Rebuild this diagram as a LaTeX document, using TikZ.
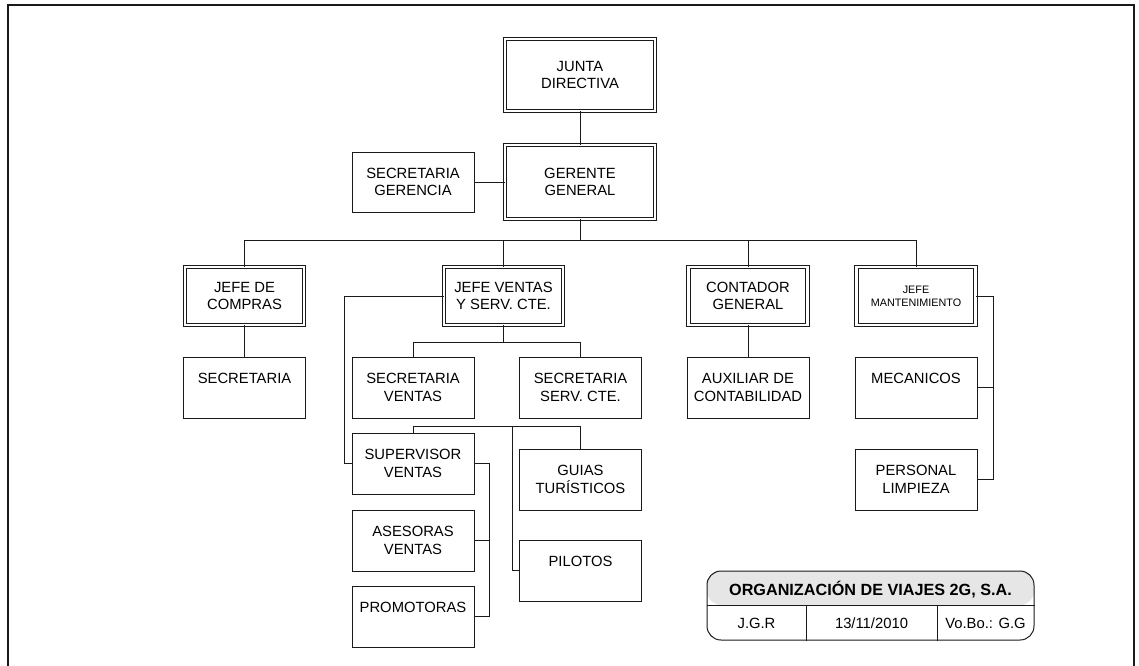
\documentclass[tikz,border=0pt]{standalone}
\usepackage{fontspec}
\setmainfont{Liberation Sans}
\usetikzlibrary{calc}
\definecolor{linegray}{HTML}{1A1A1A}
\definecolor{titlegray}{HTML}{E6E6E6}
\begin{document}
\begin{tikzpicture}[x=1pt,y=-1pt,
  every node/.style={font=\fontsize{14.8}{17.5}\selectfont, align=center, inner sep=0pt},
  box/.style={draw=linegray, line width=0.9pt, minimum width=122pt, minimum height=61pt},
  dbox/.style={draw=linegray, line width=0.85pt, double=white, double distance=2.8pt,
               minimum width=119pt, minimum height=58pt},
  link/.style={draw=linegray, line width=1pt},
  smalltext/.style={font=\fontsize{10.8}{13}\selectfont},
  titletext/.style={font=\bfseries\fontsize{16.2}{19}\selectfont},
]
\useasboundingbox (0,0) rectangle (1139,665);

% page frame
\draw[linegray, line width=1.8pt] (8,672) -- (8,5) -- (1134,5) -- (1134,672);

% management boxes
\node[dbox, minimum width=150pt, minimum height=72pt] (junta) at (580,75) {JUNTA\\DIRECTIVA};
\node[dbox, minimum width=150pt, minimum height=74pt] (gerente) at (580,182) {GERENTE\\GENERAL};
\node[box, minimum height=60pt] (secger) at (413,182) {SECRETARIA\\GERENCIA};

\node[dbox] (jcompras) at (244.5,296) {JEFE DE\\COMPRAS};
\node[dbox] (jventas) at (503.5,296) {JEFE VENTAS\\Y SERV. CTE.};
\node[dbox] (contador) at (748,296) {CONTADOR\\GENERAL};
\node[dbox, smalltext] (jmant) at (916,296) {JEFE\\MANTENIMIENTO};

% staff boxes
\node[box] (secret) at (244.5,387.5) {SECRETARIA\\\mbox{}};
\node[box] (secvent) at (413,387.5) {SECRETARIA\\VENTAS};
\node[box] (secserv) at (580.5,387.5) {SECRETARIA\\SERV. CTE.};
\node[box] (auxiliar) at (748,387.5) {AUXILIAR DE\\CONTABILIDAD};
\node[box] (mecanicos) at (916,387.5) {MECANICOS\\\mbox{}};
\node[box] (supervisor) at (413,463.5) {SUPERVISOR\\VENTAS};
\node[box] (guias) at (580.5,479.5) {GUIAS\\TURÍSTICOS};
\node[box] (limpieza) at (916,479.5) {PERSONAL\\LIMPIEZA};
\node[box] (asesoras) at (413,540.5) {ASESORAS\\VENTAS};
\node[box] (pilotos) at (580.5,570.5) {PILOTOS\\\mbox{}};
\node[box] (promotoras) at (413,616.5) {PROMOTORAS\\\mbox{}};

% routing helpers
\coordinate (bus) at (0,240);
\coordinate (vbus) at (0,342);
\coordinate (lrail) at (344,0);
\coordinate (sbus) at (512,426);
\coordinate (rrail) at (489,0);
\coordinate (mrail) at (993,0);

% connectors
\draw[link] (junta.south) -- (gerente.north);
\draw[link] (secger.east) -- (gerente.west);
\draw[link] (gerente.south) -- (gerente.south |- bus);
\draw[link] (jcompras.north) -- (jcompras.north |- bus) -- (jmant.north |- bus) -- (jmant.north);
\draw[link] (jventas.north) -- (jventas.north |- bus);
\draw[link] (contador.north) -- (contador.north |- bus);

\draw[link] (jcompras.south) -- (secret.north);
\draw[link] (contador.south) -- (auxiliar.north);

\draw[link] (jventas.south) -- (jventas.south |- vbus);
\draw[link] (secvent.north) -- (secvent.north |- vbus) -- (secserv.north |- vbus) -- (secserv.north);
\draw[link] (jventas.west) -- (lrail |- jventas.west) -- (lrail |- supervisor.west) -- (supervisor.west);

\draw[link] (supervisor.north) -- (supervisor.north |- sbus) -- (guias.north |- sbus) -- (guias.north);
\draw[link] (sbus) |- (pilotos.west);
\draw[link] (supervisor.east) -- (rrail |- supervisor.east) -- (rrail |- promotoras.east) -- (promotoras.east);
\draw[link] (asesoras.east) -- (rrail |- asesoras.east);

\draw[link] (jmant.east) -- (mrail |- jmant.east) -- (mrail |- limpieza.east) -- (limpieza.east);
\draw[link] (mecanicos.east) -- (mrail |- mecanicos.east);

% title block
\node[draw=linegray, line width=1pt, rounded corners=14pt,
      minimum width=327pt, minimum height=69pt,
      path picture={\fill[titlegray] (path picture bounding box.north west)
        rectangle ($(path picture bounding box.north east)+(0,34)$);}]
      (tblock) at (870.5,605.5) {};
\coordinate (tdiv) at (0,605);
\coordinate (c1) at (806,0);
\coordinate (c2) at (937,0);
\draw[link] (tblock.west |- tdiv) -- (tblock.east |- tdiv);
\draw[link] (c1 |- tdiv) -- (c1 |- tblock.south);
\draw[link] (c2 |- tdiv) -- (c2 |- tblock.south);
\node[titletext, anchor=base] (ttitle) at (870.5,595) {ORGANIZACIÓN DE VIAJES 2G, S.A.};
\node[anchor=base] (tauthor) at (756.5,628) {J.G.R};
\node[anchor=base] (tdate) at (871.5,628) {13/11/2010};
\node[anchor=base] (tcheck) at (985.5,628) {Vo.Bo.: G.G};
\end{tikzpicture}
\end{document}
